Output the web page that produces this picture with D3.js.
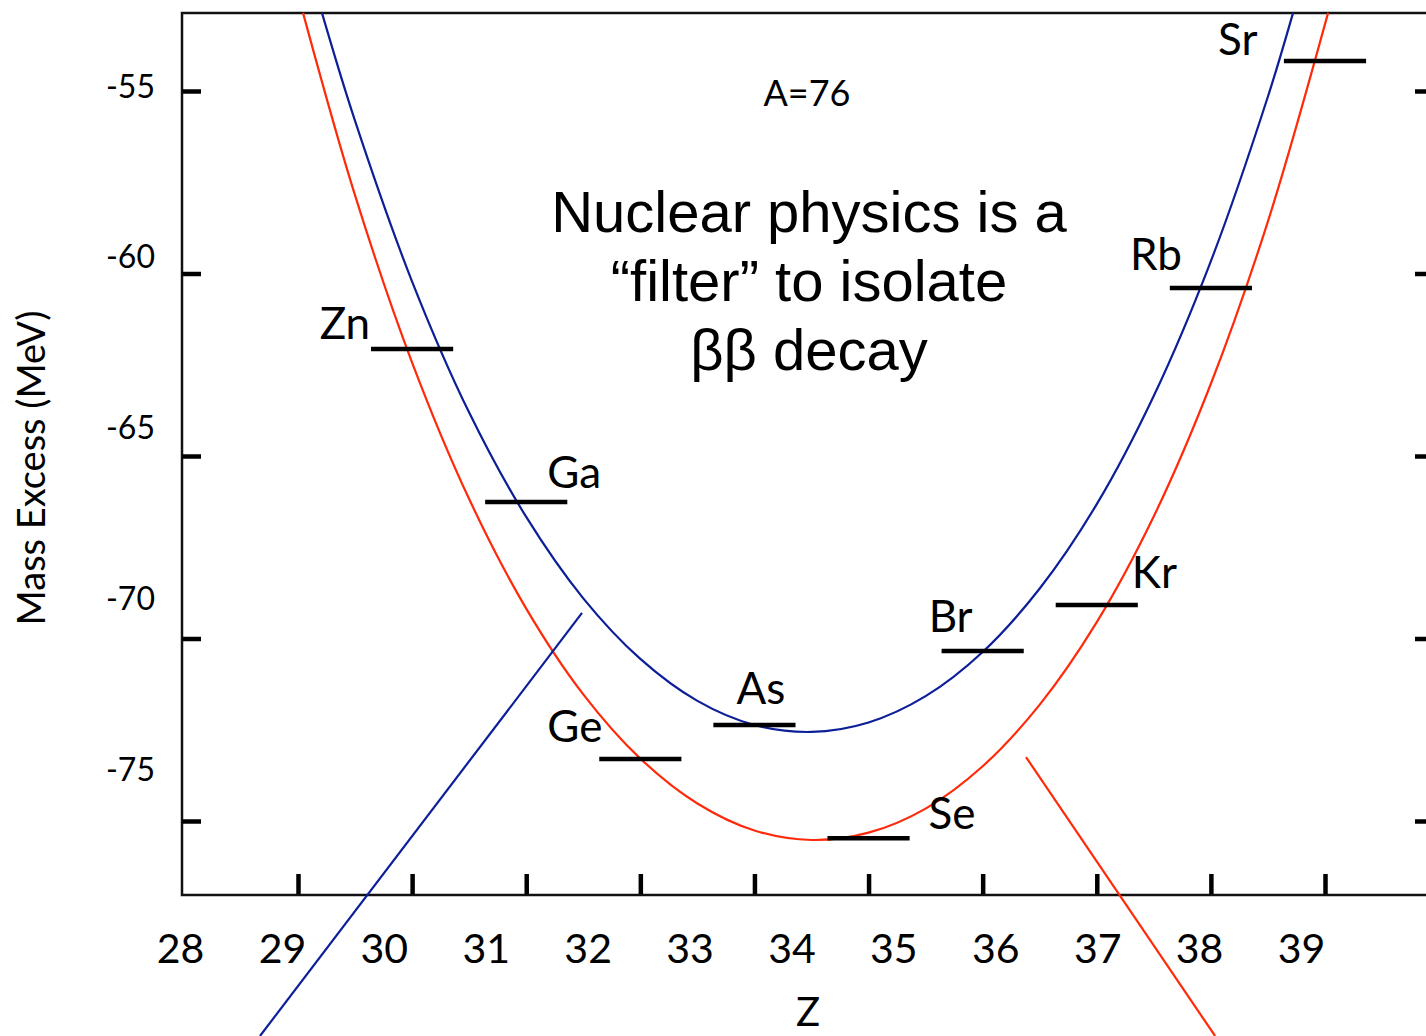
<!DOCTYPE html>
<html><head><meta charset="utf-8">
<script src="https://cdn.jsdelivr.net/npm/d3@7"></script>
<style>html,body{margin:0;padding:0;background:#fff;} svg{display:block}</style>
</head><body>
<svg id="chart" width="1426" height="1036"></svg>
<script>
// ---- data ----
const elements = ["Zn","Ga","Ge","As","Se","Br","Kr","Rb","Sr"];
const protonNumbers = [30,31,32,33,34,35,36,37,38];
const massExcess = [-62.07,-66.26,-73.30,-72.37,-75.47,-70.34,-69.08,-60.40,-54.18];

// odd-odd mass parabola (blue), read every half unit of Z
const oddOddZ    = [29.21, 29.5, 30, 30.5, 31, 31.5, 32, 32.5, 33, 33.5, 34, 34.5, 35, 35.5, 36, 36.5, 37, 37.5, 37.72];
const oddOddMass = [-52.86,-55.82,-60.22,-63.81,-66.67,-68.90,-70.56,-71.71,-72.37,-72.56,-72.30,-71.58,-70.37,-68.63,-66.32,-63.35,-59.66,-55.15,-52.86];
// even-even mass parabola (red)
const evenEvenZ    = [29.044, 29.5, 30, 30.5, 31, 31.5, 32, 32.5, 33, 33.5, 34, 34.5, 35, 35.5, 36, 36.5, 37, 37.5, 38.027];
const evenEvenMass = [-52.86,-57.86,-62.44,-66.18,-69.18,-71.53,-73.29,-74.52,-75.26,-75.52,-75.32,-74.66,-73.50,-71.81,-69.55,-66.65,-63.02,-58.57,-52.86];

// straight guide lines
const blueLineZ = [28.667, 31.489];
const blueLineMass = [-80.89, -69.30];
const redLineZ = [35.380, 37.037];
const redLineMass = [-73.25, -80.89];

// ticks and tick labels
const xTickValues = [29,30,31,32,33,34,35,36,37,38];
const yTickValues = [-55,-60,-65,-70,-75];
const xTickLabels = [28,29,30,31,32,33,34,35,36,37,38,39];
const yTickLabels = [-55,-60,-65,-70,-75];

const titleText = "A=76";
const noteLines = ["Nuclear physics is a", "\u201Cfilter\u201D to isolate", "\u03B2\u03B2 decay"];
const xTitle = "Z";
const yTitle = "Mass Excess (MeV)";

// ---- layout ----
const svg = d3.select("#chart");
const frame = {left:182, top:13, bottom:895, right:1426};
const x = d3.scaleLinear().domain([29, 38]).range([298, 1325]);
const y = d3.scaleLinear().domain([-55, -75]).range([91, 821]);
const xLab = d3.scaleLinear().domain([28, 39]).range([180, 1301]);
const yLab = d3.scaleLinear().domain([-55, -75]).range([97, 780]);

const BLUE = "#0c1f98", RED = "#ff2a0a", INK = "#000";
const labelFont = "Lato, 'Open Sans', sans-serif";

// label placement (pixel offsets from bar centre)
const labelLayout = {
  Zn:{dx:-42,dy:-10,anchor:"end"}, Ga:{dx:21,dy:-14,anchor:"start"},
  Ge:{dx:-93,dy:-17,anchor:"start"}, As:{dx:-18,dy:-21,anchor:"start"},
  Se:{dx:60,dy:-9,anchor:"start"}, Br:{dx:-54,dy:-19,anchor:"start"},
  Kr:{dx:35,dy:-17,anchor:"start"}, Rb:{dx:-81,dy:-18,anchor:"start"},
  Sr:{dx:-107,dy:-6,anchor:"start"}
};

// frame
svg.append("path")
  .attr("d", `M${frame.right},${frame.top}H${frame.left}V${frame.bottom}H${frame.right}`)
  .attr("fill","none").attr("stroke","#111").attr("stroke-width",2.5);

// tick marks via axes
function styleTicks(g){ g.select(".domain").remove(); g.selectAll(".tick line").attr("stroke",INK).attr("stroke-width",4.5); }
svg.append("g").attr("transform",`translate(${frame.left},0)`)
  .call(d3.axisLeft(y).tickValues(yTickValues).tickSize(-19).tickFormat("")).call(styleTicks);
svg.append("g").attr("transform",`translate(${frame.right},0)`)
  .call(d3.axisRight(y).tickValues(yTickValues).tickSize(-11).tickFormat("")).call(styleTicks);
svg.append("g").attr("transform",`translate(0,${frame.bottom-1})`)
  .call(d3.axisBottom(x).tickValues(xTickValues).tickSize(-20).tickFormat("")).call(styleTicks);

// tick labels via label axes
function styleLabels(g, size){
  g.select(".domain").remove(); g.selectAll(".tick line").remove();
  g.selectAll(".tick text").attr("dy",0).attr("y",0).attr("x",0)
    .attr("fill",INK).style("font-family",labelFont).style("font-size",size+"px");
}
svg.append("g").attr("transform","translate(0,963)")
  .call(d3.axisBottom(xLab).tickValues(xTickLabels).tickSize(0).tickPadding(0).tickFormat(d=>String(d)))
  .call(g=>styleLabels(g,41));
svg.append("g").attr("transform","translate(155,0)")
  .call(d3.axisLeft(yLab).tickValues(yTickLabels).tickSize(0).tickPadding(0).tickFormat(d=>String(d)))
  .call(g=>styleLabels(g,32));

// axis titles
svg.append("text").attr("x",808).attr("y",1026).attr("text-anchor","middle")
  .style("font-family",labelFont).style("font-size","40px").text(xTitle);
svg.append("text").attr("transform","translate(45,468) rotate(-90)").attr("text-anchor","middle")
  .style("font-family",labelFont).style("font-size","38px").text(yTitle);

// curves
const line = d3.line().x(d=>x(d[0])).y(d=>y(d[1])).curve(d3.curveCatmullRom.alpha(0.5));
const straight = d3.line().x(d=>x(d[0])).y(d=>y(d[1]));
svg.append("path").datum(d3.zip(evenEvenZ, evenEvenMass)).attr("d",line)
  .attr("fill","none").attr("stroke",RED).attr("stroke-width",2.2);
svg.append("path").datum(d3.zip(oddOddZ, oddOddMass)).attr("d",line)
  .attr("fill","none").attr("stroke",BLUE).attr("stroke-width",2.2);
svg.append("path").datum(d3.zip(blueLineZ, blueLineMass)).attr("d",straight)
  .attr("fill","none").attr("stroke",BLUE).attr("stroke-width",2.2);
svg.append("path").datum(d3.zip(redLineZ, redLineMass)).attr("d",straight)
  .attr("fill","none").attr("stroke",RED).attr("stroke-width",2.2);

// bars
const nuclei = elements.map((e,i)=>({name:e, z:protonNumbers[i], m:massExcess[i]}));
const halfBar = 0.36; // in Z units
svg.append("g").selectAll("line").data(nuclei).join("line")
  .attr("x1",d=>x(d.z-halfBar)).attr("x2",d=>x(d.z+halfBar))
  .attr("y1",d=>y(d.m)).attr("y2",d=>y(d.m))
  .attr("stroke",INK).attr("stroke-width",4.5);
svg.append("g").selectAll("text").data(nuclei).join("text")
  .attr("x",d=>x(d.z)+labelLayout[d.name].dx)
  .attr("y",d=>y(d.m)+labelLayout[d.name].dy)
  .attr("text-anchor",d=>labelLayout[d.name].anchor)
  .style("font-family",labelFont).style("font-size","44px").attr("fill",INK)
  .text(d=>d.name);

// annotations
svg.append("text").attr("x",807).attr("y",106).attr("text-anchor","middle")
  .style("font-family",labelFont).style("font-size","36px").text(titleText);
svg.append("g").selectAll("text").data(noteLines).join("text")
  .attr("x",809).attr("y",(d,i)=>232+i*69).attr("text-anchor","middle")
  .style("font-family","'Liberation Sans', Arial, sans-serif").style("font-size","58px")
  .text(d=>d);
</script>
</body></html>
